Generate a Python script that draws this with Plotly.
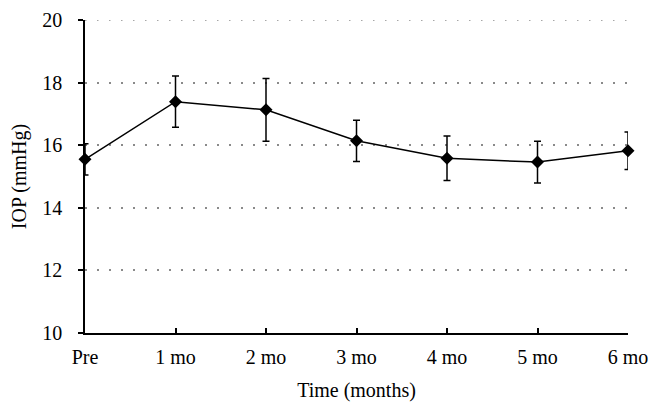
import plotly.graph_objects as go

categories = ["Pre", "1 mo", "2 mo", "3 mo", "4 mo", "5 mo", "6 mo"]
x_pos = [0, 1, 2, 3, 4, 5, 6]
iop_mean = [15.55, 17.39, 17.13, 16.14, 15.58, 15.46, 15.82]
iop_err = [0.50, 0.82, 1.00, 0.66, 0.71, 0.67, 0.60]
y_ticks = [10, 12, 14, 16, 18, 20]

font_family = "Liberation Serif, Times New Roman, serif"
grid_color = "#8a8a8a"
grid_dash = "1.5px,10.5px"

fig = go.Figure()
fig.add_trace(go.Scatter(
    x=x_pos, y=iop_mean,
    mode="lines+markers",
    line=dict(color="black", width=1.5),
    marker=dict(symbol="diamond", size=10, color="black"),
    error_y=dict(type="data", array=iop_err, visible=True,
                 color="black", thickness=1.5, width=3.5),
    cliponaxis=False,
    showlegend=False,
))

# top gridline (plotly omits grid at the range edge)
fig.add_shape(type="line", xref="paper", yref="y", x0=0, x1=1,
              y0=y_ticks[-1], y1=y_ticks[-1],
              line=dict(color=grid_color, width=1.5, dash=grid_dash), layer="below")

fig.update_layout(
    width=660, height=413,
    margin=dict(l=85, r=32, t=20, b=80),
    paper_bgcolor="white", plot_bgcolor="white",
    font=dict(family=font_family, size=17, color="black"),
    xaxis=dict(
        range=[0, 6], tickmode="array", tickvals=x_pos, ticktext=categories,
        ticks="inside", ticklen=5, tickwidth=1.5, tickcolor="black",
        tickfont=dict(family=font_family, size=20, color="black"),
        showline=True, linecolor="black", linewidth=1.5,
        showgrid=False, zeroline=False,
        title=dict(text="Time (months)", standoff=16,
                   font=dict(family=font_family, size=20, color="black")),
        ticklabelstandoff=5,
        automargin=False,
    ),
    yaxis=dict(
        range=[10, 20], tickmode="array", tickvals=y_ticks,
        ticks="outside", ticklen=5, tickwidth=1.5, tickcolor="black",
        tickfont=dict(family=font_family, size=20, color="black"),
        showline=True, linecolor="black", linewidth=1.5,
        showgrid=True, gridcolor=grid_color, gridwidth=1.5, griddash=grid_dash,
        zeroline=False,
        title=dict(text="IOP (mmHg)", standoff=10,
                   font=dict(family=font_family, size=20, color="black")),
        ticklabelstandoff=12,
        automargin=False,
    ),
)

fig.write_html("out.html", post_script="document.body.style.margin='0';",
               config={"displayModeBar": False})
